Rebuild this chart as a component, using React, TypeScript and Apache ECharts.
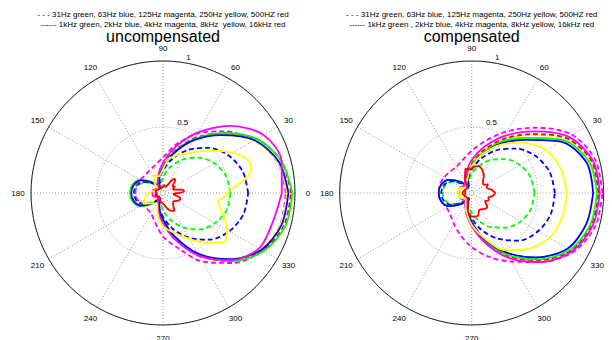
import React, { useEffect, useRef } from 'react';
import * as echarts from 'echarts';

// shared angle grid (degrees)
const ANG = [0, 15, 30, 45, 60, 75, 90, 105, 120, 135, 150, 165, 180, 195, 210, 225, 240, 255, 270, 285, 300, 315, 330, 345, 360];

// ---- uncompensated ----
const U_31 = [0.51, 0.495, 0.45, 0.38, 0.29, 0.2, 0.12, 0.06, 0.03, 0.09, 0.16, 0.2, 0.21, 0.2, 0.16, 0.09, 0.03, 0.07, 0.13, 0.21, 0.3, 0.39, 0.455, 0.5, 0.51];
const U_63 = [0.645, 0.626, 0.571, 0.484, 0.377, 0.265, 0.17, 0.1, 0.04, 0.1, 0.17, 0.21, 0.22, 0.21, 0.17, 0.1, 0.04, 0.11, 0.18, 0.28, 0.39, 0.5, 0.58, 0.63, 0.645];
const U_125 = [0.93, 0.9, 0.8, 0.66, 0.52, 0.38, 0.27, 0.22, 0.2, 0.19, 0.2, 0.21, 0.21, 0.2, 0.18, 0.17, 0.18, 0.23, 0.33, 0.43, 0.6, 0.75, 0.87, 0.92, 0.93];
const U_250 = [0.94, 0.9, 0.79, 0.62, 0.46, 0.31, 0.2, 0.12, 0.07, 0.06, 0.07, 0.08, 0.08, 0.08, 0.07, 0.06, 0.07, 0.12, 0.21, 0.35, 0.53, 0.71, 0.85, 0.92, 0.94];
const U_500 = [0.97, 0.93, 0.82, 0.64, 0.48, 0.33, 0.21, 0.13, 0.08, 0.06, 0.05, 0.05, 0.05, 0.05, 0.05, 0.06, 0.08, 0.13, 0.22, 0.36, 0.55, 0.73, 0.87, 0.95, 0.97];
const U_1K = [0.98, 0.93, 0.82, 0.64, 0.47, 0.32, 0.2, 0.12, 0.06, 0.12, 0.2, 0.24, 0.25, 0.24, 0.2, 0.12, 0.06, 0.12, 0.21, 0.35, 0.54, 0.73, 0.88, 0.96, 0.98];
const U_2K = [0.95, 0.91, 0.8, 0.62, 0.46, 0.31, 0.19, 0.11, 0.05, 0.11, 0.19, 0.23, 0.24, 0.23, 0.19, 0.11, 0.05, 0.11, 0.2, 0.34, 0.53, 0.71, 0.86, 0.93, 0.95];
const U_4K = [0.9, 0.93, 0.88, 0.72, 0.53, 0.36, 0.23, 0.14, 0.08, 0.05, 0.06, 0.08, 0.08, 0.08, 0.06, 0.05, 0.08, 0.14, 0.23, 0.37, 0.55, 0.72, 0.84, 0.86, 0.9];
const U_8K_ANG = [0, 4, 10, 15, 21, 30, 42, 59, 79, 90, 105, 118, 130, 145, 160, 175, 190, 208, 225, 240, 255, 270, 283, 295, 311, 321, 328, 337, 345, 351, 356, 360];
const U_8K = [0.49, 0.53, 0.64, 0.69, 0.69, 0.61, 0.48, 0.35, 0.27, 0.18, 0.13, 0.155, 0.1, 0.05, 0.06, 0.09, 0.13, 0.17, 0.11, 0.09, 0.16, 0.25, 0.3, 0.365, 0.5, 0.59, 0.57, 0.51, 0.45, 0.42, 0.46, 0.49];
const U_16K_ANG = [0, 5, 10, 15, 20, 25, 30, 35, 40, 45, 50, 55, 60, 70, 80, 90, 100, 110, 120, 135, 150, 165, 180, 195, 210, 225, 240, 255, 270, 285, 295, 303, 310, 320, 330, 340, 345, 350, 355, 360];
const U_16K = [0.12, 0.16, 0.15, 0.1, 0.08, 0.09, 0.1, 0.09, 0.1, 0.13, 0.14, 0.12, 0.07, 0.05, 0.06, 0.05, 0.04, 0.05, 0.06, 0.04, 0.05, 0.06, 0.05, 0.06, 0.05, 0.04, 0.05, 0.07, 0.08, 0.12, 0.15, 0.16, 0.12, 0.1, 0.12, 0.14, 0.13, 0.09, 0.08, 0.12];

// ---- compensated ----
const C_31 = [0.475, 0.462, 0.423, 0.363, 0.289, 0.212, 0.146, 0.09, 0.04, 0.1, 0.17, 0.21, 0.22, 0.21, 0.17, 0.1, 0.04, 0.09, 0.15, 0.22, 0.3, 0.37, 0.43, 0.465, 0.475];
const C_63 = [0.63, 0.612, 0.559, 0.476, 0.374, 0.268, 0.177, 0.1, 0.04, 0.1, 0.18, 0.22, 0.23, 0.22, 0.18, 0.1, 0.04, 0.11, 0.19, 0.29, 0.4, 0.51, 0.58, 0.62, 0.63];
const C_125 = [0.99, 0.97, 0.88, 0.7, 0.54, 0.41, 0.32, 0.26, 0.23, 0.23, 0.24, 0.25, 0.25, 0.24, 0.22, 0.23, 0.27, 0.33, 0.41, 0.5, 0.6, 0.74, 0.89, 0.97, 0.99];
const C_250 = [0.95, 0.93, 0.82, 0.62, 0.46, 0.33, 0.22, 0.14, 0.09, 0.08, 0.08, 0.09, 0.09, 0.09, 0.08, 0.08, 0.09, 0.14, 0.23, 0.37, 0.55, 0.72, 0.86, 0.93, 0.95];
const C_500 = [0.96, 0.94, 0.83, 0.63, 0.47, 0.33, 0.22, 0.14, 0.08, 0.06, 0.05, 0.05, 0.05, 0.05, 0.05, 0.06, 0.08, 0.14, 0.23, 0.37, 0.55, 0.72, 0.87, 0.94, 0.96];
const C_1K = [0.95, 0.92, 0.8, 0.59, 0.45, 0.31, 0.21, 0.12, 0.05, 0.12, 0.2, 0.24, 0.25, 0.24, 0.2, 0.12, 0.05, 0.13, 0.23, 0.37, 0.54, 0.71, 0.86, 0.93, 0.95];
const C_2K = [0.92, 0.9, 0.78, 0.57, 0.43, 0.3, 0.2, 0.12, 0.05, 0.12, 0.2, 0.24, 0.25, 0.24, 0.2, 0.12, 0.05, 0.13, 0.22, 0.36, 0.52, 0.69, 0.84, 0.9, 0.92];
const C_4K = [0.97, 0.95, 0.85, 0.66, 0.5, 0.36, 0.25, 0.16, 0.1, 0.08, 0.09, 0.1, 0.1, 0.1, 0.09, 0.08, 0.1, 0.16, 0.25, 0.39, 0.57, 0.74, 0.88, 0.95, 0.97];
const C_8K = [0.72, 0.7, 0.65, 0.54, 0.42, 0.3, 0.2, 0.12, 0.08, 0.06, 0.08, 0.1, 0.1, 0.1, 0.08, 0.06, 0.09, 0.15, 0.24, 0.35, 0.5, 0.6, 0.68, 0.71, 0.72];
const C_16K_ANG = [0, 10, 20, 28, 35, 45, 55, 65, 75, 85, 95, 105, 115, 125, 140, 160, 180, 200, 220, 240, 255, 265, 275, 285, 295, 305, 318, 328, 338, 345, 352, 360];
const C_16K = [0.18, 0.15, 0.12, 0.14, 0.11, 0.12, 0.16, 0.19, 0.21, 0.2, 0.18, 0.19, 0.12, 0.06, 0.05, 0.06, 0.07, 0.06, 0.05, 0.06, 0.12, 0.17, 0.18, 0.18, 0.14, 0.15, 0.16, 0.12, 0.14, 0.13, 0.16, 0.18];

// ticks & texts
const ANGLE_TICKS = [0, 30, 60, 90, 120, 150, 180, 210, 240, 270, 300, 330];
const RADIUS_TICKS = [0.5, 1];
const TITLES = ['uncompensated', 'compensated'];
const LEGEND_DASHED = [
  '- - - 31Hz green, 63Hz blue, 125Hz magenta, 250Hz yellow, 500HZ red',
  '- - - 31Hz green, 63Hz blue, 125Hz magenta, 250Hz yellow, 500HZ red',
];
const LEGEND_SOLID = [
  '------ 1kHz green, 2kHz blue, 4kHz magenta, 8kHz  yellow, 16kHz red',
  '------ 1kHz green , 2kHz blue, 4kHz magenta, 8kHz yellow, 16kHz red',
];

const GREEN = '#00ff00';
const BLUE = '#0000ff';
const MAGENTA = '#ff00ff';
const YELLOW = '#ffff00';
const RED = '#ff0000';

const FONT = '"Liberation Sans", Arial, Helvetica, sans-serif';
const WIDTH = 612;

export default function App() {
  const ref = useRef<HTMLDivElement>(null);
  useEffect(() => {
    if (!ref.current) return;
    const chart = echarts.init(ref.current, null, { renderer: 'svg' });
    const R = 132;
    const centers = [
      [163, 193],
      [471.7, 193],
    ];

    const mk = (angles: number[], rs: number[], color: string, dashed: boolean, pi: number) => ({
      type: 'line',
      coordinateSystem: 'polar',
      polarIndex: pi,
      data: rs.map((r, i) => [r, angles[i]]),
      symbol: 'none',
      smooth: 0.3,
      silent: true,
      clip: false,
      lineStyle: { color, width: 1.8, type: dashed ? [5, 3] : 'solid' },
    });

    const series = [
      mk(ANG, U_31, GREEN, true, 0),
      mk(ANG, U_63, BLUE, true, 0),
      mk(ANG, U_125, MAGENTA, true, 0),
      mk(ANG, U_250, YELLOW, true, 0),
      mk(ANG, U_500, RED, true, 0),
      mk(ANG, U_1K, GREEN, false, 0),
      mk(ANG, U_2K, BLUE, false, 0),
      mk(ANG, U_4K, MAGENTA, false, 0),
      mk(U_8K_ANG, U_8K, YELLOW, false, 0),
      mk(U_16K_ANG, U_16K, RED, false, 0),
      mk(ANG, C_31, GREEN, true, 1),
      mk(ANG, C_63, BLUE, true, 1),
      mk(ANG, C_125, MAGENTA, true, 1),
      mk(ANG, C_250, YELLOW, true, 1),
      mk(ANG, C_500, RED, true, 1),
      mk(ANG, C_1K, GREEN, false, 1),
      mk(ANG, C_2K, BLUE, false, 1),
      mk(ANG, C_4K, MAGENTA, false, 1),
      mk(ANG, C_8K, YELLOW, false, 1),
      mk(C_16K_ANG, C_16K, RED, false, 1),
    ];

    const graphics: any[] = [];
    const txt = (x: number, y: number, text: string, size: number, align: string, valign: string) => ({
      type: 'text',
      x,
      y,
      silent: true,
      style: {
        text,
        fontSize: size,
        fontFamily: FONT,
        fill: '#000',
        align,
        verticalAlign: valign,
        textAlign: align,
        textVerticalAlign: valign,
      },
    });
    centers.forEach(([cx, cy], p) => {
      ANGLE_TICKS.forEach((a) => {
        const rad = (a * Math.PI) / 180;
        const x = cx + 145 * Math.cos(rad);
        if (x > WIDTH) return; // falls outside the page, as in the reference
        graphics.push(txt(x, cy - 145 * Math.sin(rad), String(a), 8, 'center', 'middle'));
      });
      RADIUS_TICKS.forEach((rv) => {
        const rad = (82 * Math.PI) / 180;
        graphics.push(txt(cx + rv * R * Math.cos(rad) + 5, cy - rv * R * Math.sin(rad) - 1, String(rv), 8, 'left', 'bottom'));
      });
      graphics.push(txt(cx, 36.5, TITLES[p], 16, 'center', 'middle'));
      graphics.push(txt(cx, 14, LEGEND_DASHED[p], 8, 'center', 'middle'));
      graphics.push(txt(cx, 24, LEGEND_SOLID[p], 8, 'center', 'middle'));
    });

    const grid = { color: '#999', width: 1, type: [1, 2] };

    const option: any = {
      animation: false,
      backgroundColor: '#fff',
      polar: centers.map((c) => ({ center: c, radius: R })),
      angleAxis: centers.map((_, i) => ({
        polarIndex: i,
        type: 'value',
        min: 0,
        max: 360,
        interval: 30,
        startAngle: 0,
        clockwise: false,
        axisLine: { show: true, lineStyle: { color: '#222', width: 1 } },
        axisTick: { show: false },
        axisLabel: { show: false },
        splitLine: { show: true, lineStyle: grid },
        z: 1,
      })),
      radiusAxis: centers.map((_, i) => ({
        polarIndex: i,
        type: 'value',
        min: 0,
        max: 1,
        interval: 0.5,
        axisLine: { show: false },
        axisTick: { show: false },
        axisLabel: { show: false },
        splitLine: { show: true, lineStyle: grid },
        z: 1,
      })),
      series,
      graphic: { elements: graphics },
    };
    chart.setOption(option);
    return () => chart.dispose();
  }, []);
  return (
    <div
      ref={ref}
      style={{ position: 'fixed', left: 0, top: 0, width: WIDTH, height: 340, background: '#fff' }}
    />
  );
}
